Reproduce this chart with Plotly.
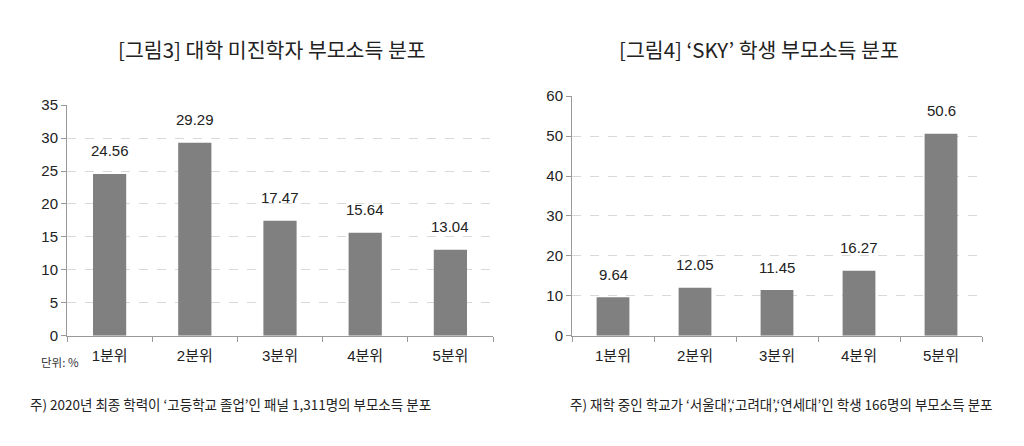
import plotly.graph_objects as go

categories = ["1분위", "2분위", "3분위", "4분위", "5분위"]
left_values = [24.56, 29.29, 17.47, 15.64, 13.04]
left_labels = ["24.56", "29.29", "17.47", "15.64", "13.04"]
right_values = [9.64, 12.05, 11.45, 16.27, 50.6]
right_labels = ["9.64", "12.05", "11.45", "16.27", "50.6"]

left_title = "[그림3] 대학 미진학자 부모소득 분포"
right_title = "[그림4] ‘SKY’ 학생 부모소득 분포"
left_note = "주) 2020년 최종 학력이 ‘고등학교 졸업’인 패널 1,311명의 부모소득 분포"
right_note = "주) 재학 중인 학교가 ‘서울대’,‘고려대’,‘연세대’인 학생 166명의 부모소득 분포"
unit_text = "단위: %"

W, H = 1024, 446
XOFF = 8


def px(x):
    return (x - XOFF) / W


def py(y):
    s = (y - 17.8) / 0.963
    return 1 - s / H


FONT = "Liberation Sans, Noto Sans CJK KR, sans-serif"
KFONT = "Noto Sans CJK KR, sans-serif"
BAR = "#808080"

fig = go.Figure()
fig.add_trace(go.Bar(x=categories, y=left_values, marker=dict(color=BAR, line=dict(width=0)),
                     width=0.39, xaxis="x", yaxis="y", showlegend=False, hoverinfo="x+y"))
fig.add_trace(go.Bar(x=categories, y=right_values, marker=dict(color=BAR, line=dict(width=0)),
                     width=0.4, xaxis="x2", yaxis="y2", showlegend=False, hoverinfo="x+y"))

for cat, val, lab in zip(categories, left_values, left_labels):
    fig.add_annotation(x=cat, y=val, xref="x", yref="y", text=lab, showarrow=False,
                       yanchor="middle", yshift=23,
                       font=dict(size=15, color="#222", family=FONT))
for cat, val, lab in zip(categories, right_values, right_labels):
    fig.add_annotation(x=cat, y=val, xref="x2", yref="y2", text=lab, showarrow=False,
                       yanchor="middle", yshift=23,
                       font=dict(size=15, color="#222", family=FONT))

xcommon = dict(type="category", showline=True, linecolor="#999", linewidth=1,
               ticks="outside", tickson="boundaries", ticklen=5, tickcolor="#999",
               ticklabelstandoff=6,
               tickfont=dict(size=15, color="#222", family=FONT), showgrid=False)
ycommon = dict(showline=True, linecolor="#999", linewidth=1, ticks="outside", ticklen=5,
               tickcolor="#999", tickfont=dict(size=15, color="#222", family=FONT),
               showgrid=True, gridcolor="#d9d9d9", griddash="dash", gridwidth=1,
               zeroline=False)

fig.update_layout(
    width=W, height=H,
    margin=dict(l=0, r=0, t=0, b=0),
    paper_bgcolor="white", plot_bgcolor="white",
    xaxis=dict(domain=[px(67), px(493)], anchor="y", **xcommon),
    yaxis=dict(domain=[py(337), py(106)], anchor="x", range=[0, 35], dtick=5, **ycommon),
    xaxis2=dict(domain=[px(572), px(982)], anchor="y2", **xcommon),
    yaxis2=dict(domain=[py(337), py(97)], anchor="x2", range=[0, 60], dtick=10, **ycommon),
    bargap=0.6,
)

fig.add_annotation(text=left_title, x=px(272), y=py(50), xref="paper", yref="paper",
                   showarrow=False, xanchor="center", yanchor="middle",
                   font=dict(size=20.5, color="#222", family=KFONT))
fig.add_annotation(text=right_title, x=px(759), y=py(50), xref="paper", yref="paper",
                   showarrow=False, xanchor="center", yanchor="middle",
                   font=dict(size=20.5, color="#222", family=KFONT))
fig.add_annotation(text=unit_text, x=px(39), y=py(363), xref="paper", yref="paper",
                   showarrow=False, xanchor="left", yanchor="middle",
                   font=dict(size=11.5, color="#333", family=KFONT))
fig.add_annotation(text=left_note, x=px(28), y=py(405), xref="paper", yref="paper",
                   showarrow=False, xanchor="left", yanchor="middle",
                   font=dict(size=13.5, color="#222", family=KFONT))
fig.add_annotation(text=right_note, x=px(568), y=py(405), xref="paper", yref="paper",
                   showarrow=False, xanchor="left", yanchor="middle",
                   font=dict(size=13.5, color="#222", family=KFONT))

fig.write_html("out.html")
